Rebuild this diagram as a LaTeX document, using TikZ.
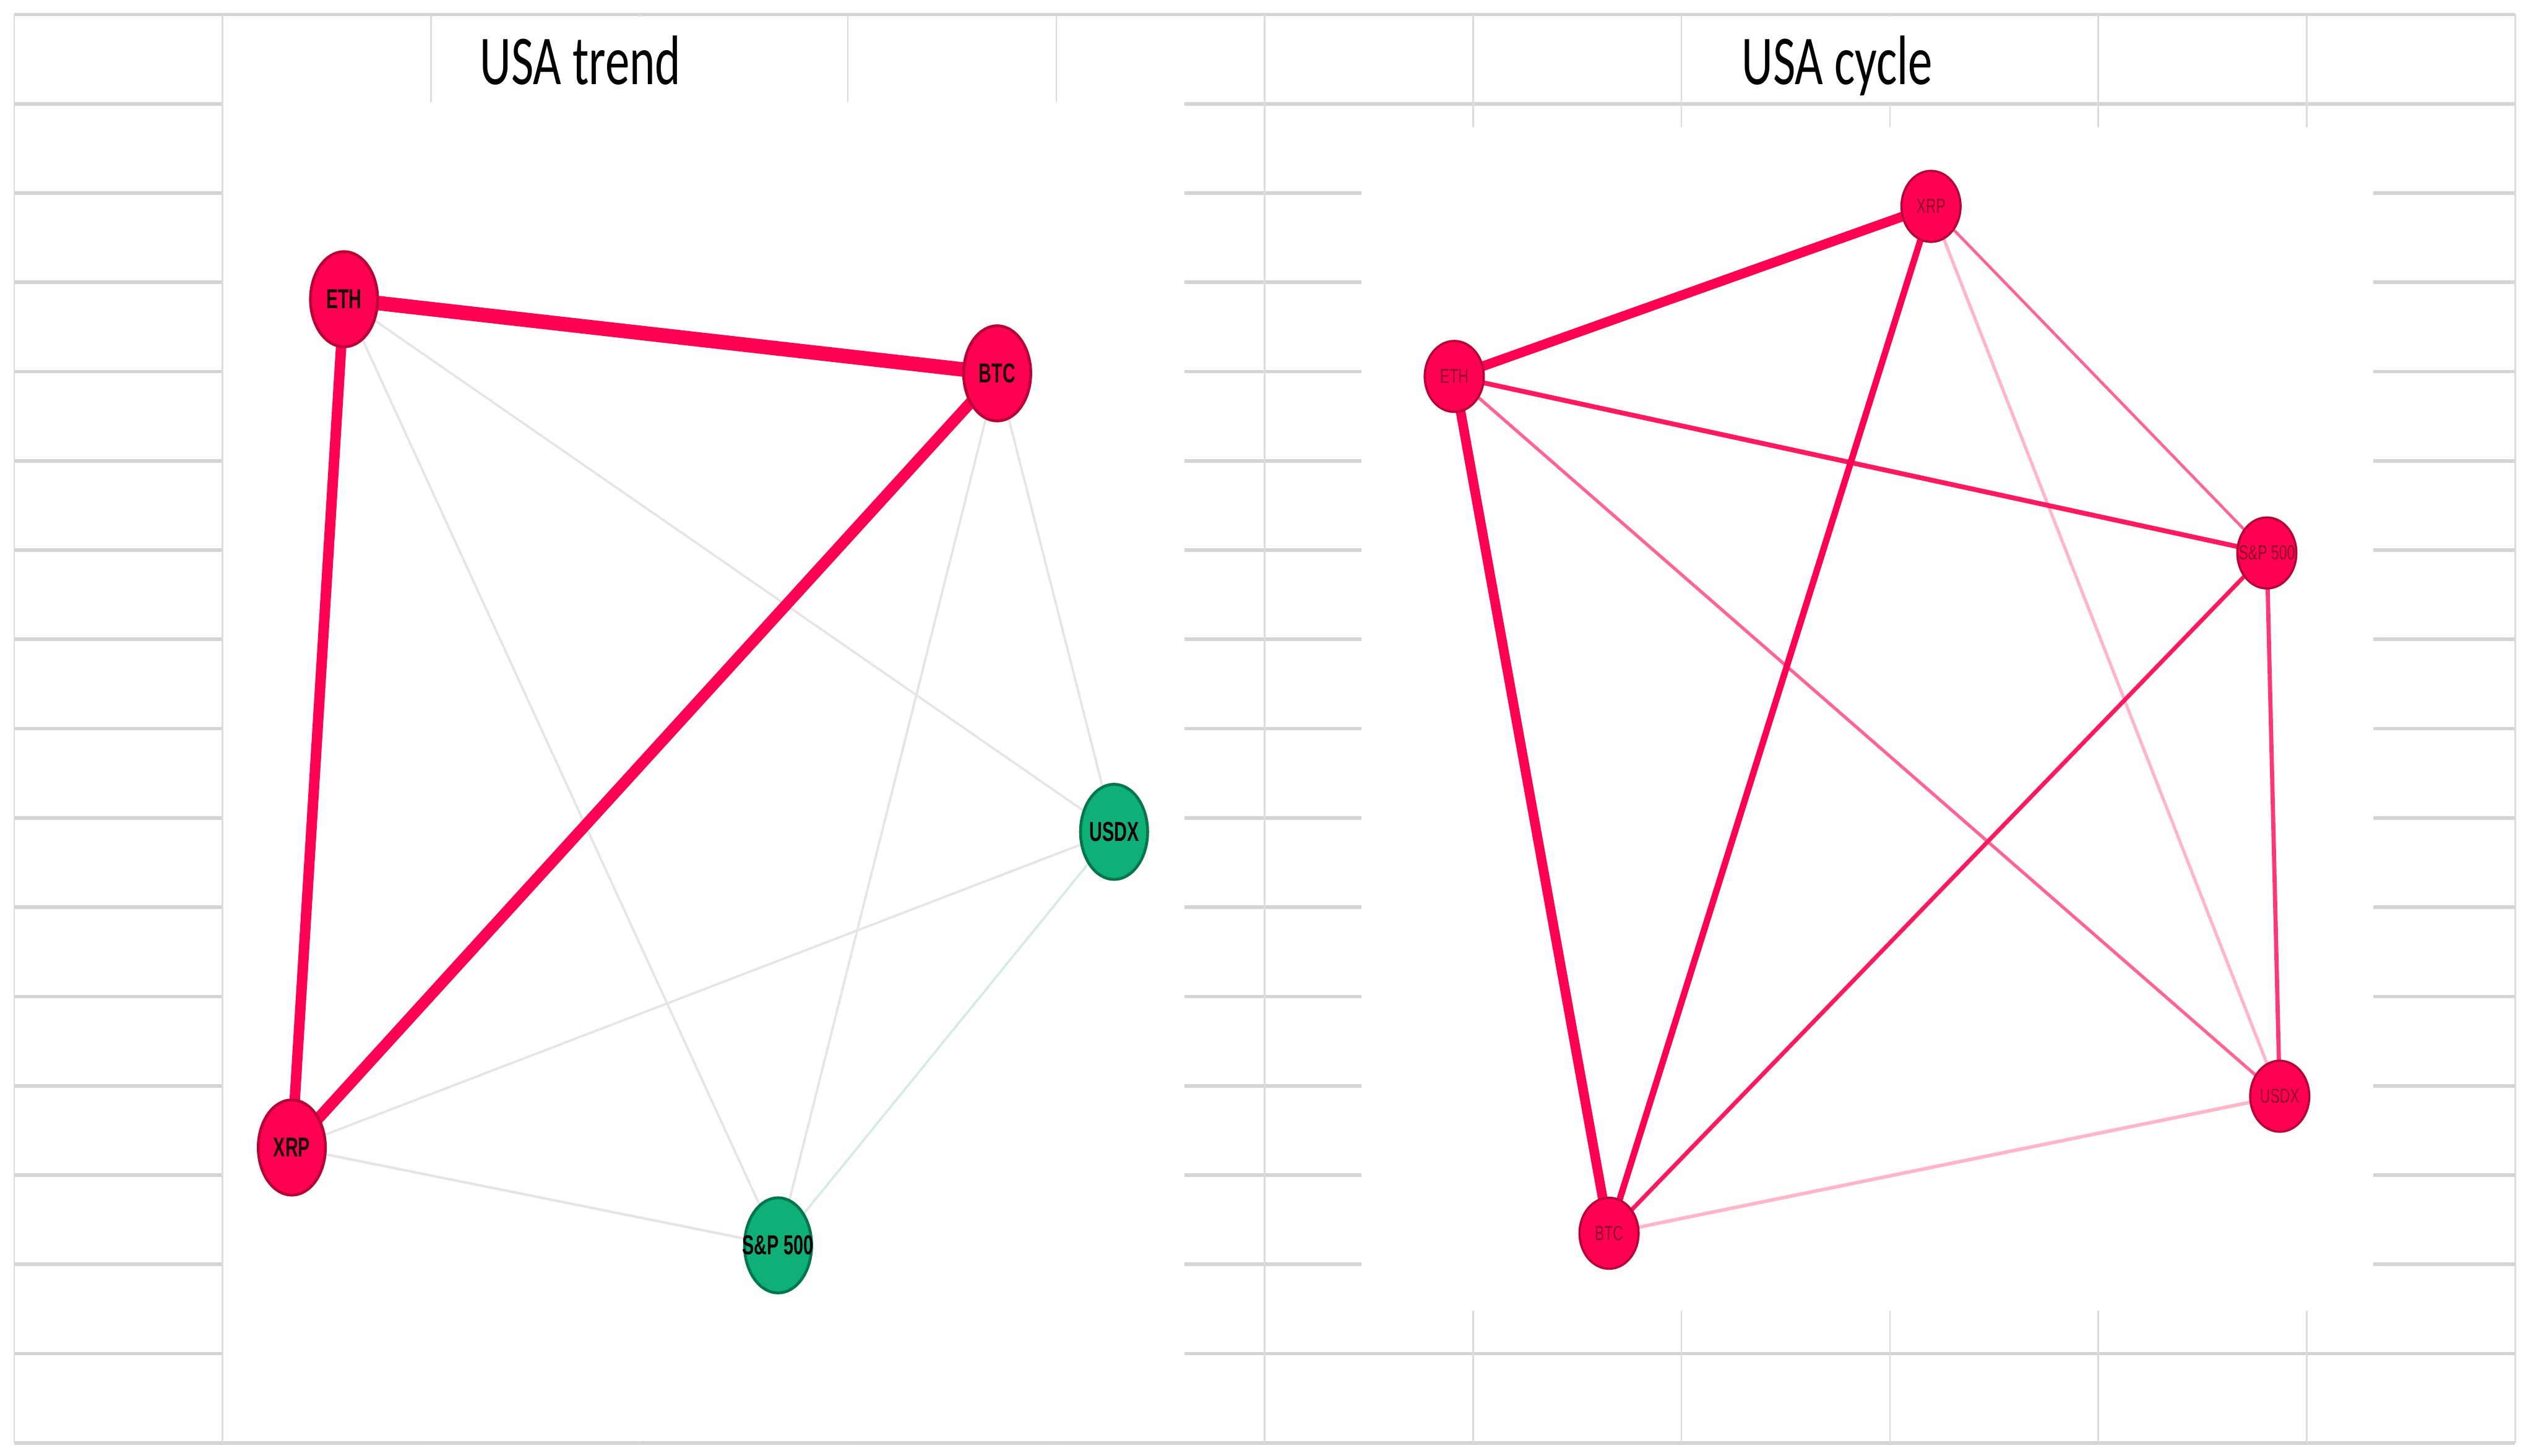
\documentclass[tikz,border=0pt]{standalone}
\usepackage{fontspec}
\usepackage{graphicx}
\setmainfont{Liberation Sans}
\newfontfamily\titlefont{Carlito}
\usetikzlibrary{shapes.geometric}
\pgfdeclarelayer{gridlayer}
\pgfdeclarelayer{edgelayer}
\pgfsetlayers{gridlayer,edgelayer,main}

\definecolor{nodered}{RGB}{255,0,82}
\definecolor{nodereddark}{RGB}{185,0,55}
\definecolor{nodegreen}{RGB}{14,176,120}
\definecolor{nodegreendark}{RGB}{0,118,78}
\definecolor{hgridgray}{RGB}{212,212,212}
\definecolor{vgridgray}{RGB}{220,220,220}
\definecolor{faintedge}{RGB}{232,228,229}
\definecolor{faintgreen}{RGB}{212,236,226}
\definecolor{rlabel}{RGB}{140,0,38}
\definecolor{lblack}{RGB}{25,0,8}
\definecolor{redA}{RGB}{255,25,95}
\definecolor{redB}{RGB}{255,55,118}
\definecolor{pinkC}{RGB}{255,100,150}
\definecolor{pinkD}{RGB}{255,182,203}

\newcommand{\lsq}[1]{\makebox[0pt]{\scalebox{0.65}[1]{#1}}}
\newcommand{\rsq}[1]{\makebox[0pt]{\scalebox{0.70}[1]{#1}}}
\newcommand{\tsq}[1]{\scalebox{0.695}[1]{#1}}

\tikzset{
  hline/.style={draw=hgridgray, line width=2.2pt},
  vline/.style={draw=vgridgray, line width=1pt},
  titlenode/.style={anchor=base, inner sep=0pt, font=\titlefont\fontsize{43.5}{43.5}\selectfont, text=black},
  lnode/.style={ellipse, minimum width=41.6pt, minimum height=59pt, inner sep=0pt,
    line width=1.8pt, font=\bfseries\fontsize{17}{17}\selectfont, text=lblack},
  redl/.style={lnode, fill=nodered, draw=nodereddark},
  greenl/.style={lnode, fill=nodegreen, draw=nodegreendark},
  rnode/.style={ellipse, minimum width=36.6pt, minimum height=44pt, inner sep=0pt,
    fill=nodered, draw=nodereddark, line width=1.4pt,
    font=\fontsize{12.6}{12.6}\selectfont, text=rlabel},
  edge/.style={line cap=butt}
}

\begin{document}
\begin{tikzpicture}[x=1pt,y=-1pt]
\useasboundingbox (0,0) rectangle (1568,903);

\begin{pgfonlayer}{gridlayer}
  \fill[white] (0,0) rectangle (1568,903);
  \foreach \j in {0,...,16}
    \draw[hline] (8.8,{9+55.375*\j}) -- (1560,{9+55.375*\j});
  \foreach \i in {0,...,12}
    \draw[vline] ({8.8+129.27*\i},9) -- ({8.8+129.27*\i},895);
  % pasted chart areas and title boxes hide the grid
  \fill[white] (138.5,63.2) rectangle (734.5,893.9);
  \fill[white] (280,10.2) rectangle (510,63.2);
  \fill[white] (1060,10.2) rectangle (1290,63.2);
  \fill[white] (844.5,79) rectangle (1472,813);
\end{pgfonlayer}

% titles
\node[titlenode] (t1) at (360,52.5) {\tsq{USA trend}};
\node[titlenode] (t2) at (1139.5,52.5) {\tsq{USA cycle}};

% left panel: USA trend
\node[redl]   (lETH)  at (213.4,185.6) {\lsq{ETH}};
\node[redl]   (lBTC)  at (618.5,231.6) {\lsq{BTC}};
\node[greenl] (lUSDX) at (691,516)     {\lsq{USDX}};
\node[redl]   (lXRP)  at (181,711.8)   {\lsq{XRP}};
\node[greenl] (lSP)   at (482.6,772.5) {\lsq{S\&P 500}};

% right panel: USA cycle
\node[rnode] (rXRP)  at (1197.7,128) {\rsq{XRP}};
\node[rnode] (rETH)  at (902,233.5)  {\rsq{ETH}};
\node[rnode] (rSP)   at (1406,343)   {\rsq{S\&P 500}};
\node[rnode] (rUSDX) at (1414,680)   {\rsq{USDX}};
\node[rnode] (rBTC)  at (998,765)    {\rsq{BTC}};

\begin{pgfonlayer}{edgelayer}
  % left
  \draw[edge, draw=faintedge, line width=1.4pt] (lETH.center) -- (lUSDX.center);
  \draw[edge, draw=faintedge, line width=1.4pt] (lETH.center) -- (lSP.center);
  \draw[edge, draw=faintedge, line width=1.4pt] (lBTC.center) -- (lUSDX.center);
  \draw[edge, draw=faintedge, line width=1.4pt] (lBTC.center) -- (lSP.center);
  \draw[edge, draw=faintedge, line width=1.4pt] (lXRP.center) -- (lUSDX.center);
  \draw[edge, draw=faintedge, line width=1.6pt] (lXRP.center) -- (lSP.center);
  \draw[edge, draw=faintgreen, line width=1.4pt] (lUSDX.center) -- (lSP.center);
  \draw[edge, draw=nodered, line width=9pt] (lETH.center) -- (lBTC.center);
  \draw[edge, draw=nodered, line width=6.5pt] (lETH.center) -- (lXRP.center);
  \draw[edge, draw=nodered, line width=7pt] (lBTC.center) -- (lXRP.center);
  % right
  \draw[edge, draw=pinkD, line width=2pt] (rXRP.center) -- (rUSDX.center);
  \draw[edge, draw=pinkD, line width=2.2pt] (rBTC.center) -- (rUSDX.center);
  \draw[edge, draw=pinkC, line width=1.8pt] (rXRP.center) -- (rSP.center);
  \draw[edge, draw=pinkC, line width=2pt] (rETH.center) -- (rUSDX.center);
  \draw[edge, draw=redB, line width=2.6pt] (rSP.center) -- (rUSDX.center);
  \draw[edge, draw=redA, line width=2.6pt] (rSP.center) -- (rBTC.center);
  \draw[edge, draw=redA, line width=3pt] (rETH.center) -- (rSP.center);
  \draw[edge, draw=nodered, line width=4pt] (rXRP.center) -- (rBTC.center);
  \draw[edge, draw=nodered, line width=6pt] (rETH.center) -- (rXRP.center);
  \draw[edge, draw=nodered, line width=6pt] (rETH.center) -- (rBTC.center);
\end{pgfonlayer}
\end{tikzpicture}
\end{document}
